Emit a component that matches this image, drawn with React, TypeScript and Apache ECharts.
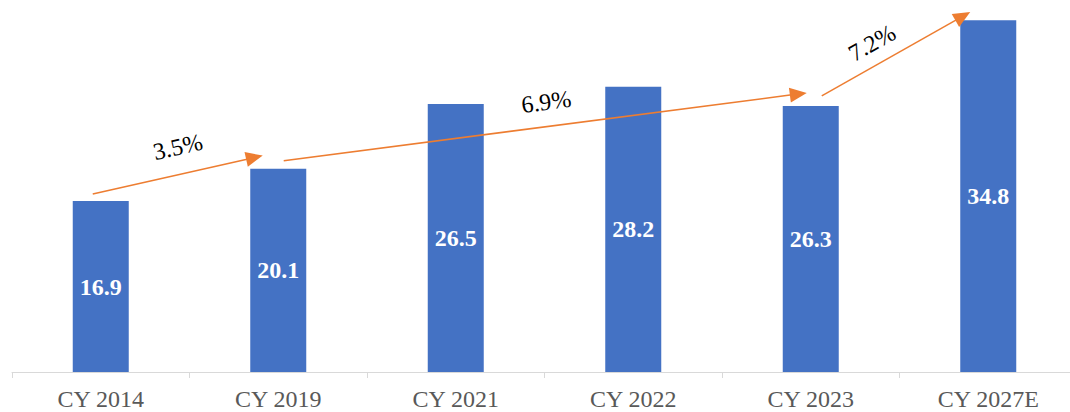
import React, { useEffect, useRef } from "react";
import * as echarts from "echarts";

const categories = ["CY 2014", "CY 2019", "CY 2021", "CY 2022", "CY 2023", "CY 2027E"];
const values = [16.9, 20.1, 26.5, 28.2, 26.3, 34.8];

// CAGR arrows: from category index/value to category index/value
const growthLabels = ["3.5%", "6.9%", "7.2%"];
const arrowFromIndex = [0, 1, 4];
const arrowToIndex = [1, 4, 5];
const arrowFromValue = [17.6, 20.9, 27.3];
const arrowToValue = [21.4, 27.6, 35.6];

// pixel styling offsets for the arrows and their labels
const arrowFromDx = [-8, 5.5, 11];
const arrowToDx = [-15.5, -4, -18];
const labelOffset = [
  [0, -28],
  [1, -25],
  [-24, -11],
];

const ORANGE = "#ED7D31";
const SERIF = "Liberation Serif";

export default function App() {
  const ref = useRef<HTMLDivElement>(null);

  useEffect(() => {
    if (!ref.current) return;
    const chart = echarts.init(ref.current, undefined, { renderer: "svg" });
    chart.setOption({
      animation: false,
      textStyle: { fontFamily: SERIF },
      grid: { left: 12, right: 0, top: 8, bottom: 40, containLabel: false },
      xAxis: {
        type: "category",
        data: categories,
        axisLine: { show: true, lineStyle: { color: "#D9D9D9", width: 1 } },
        axisTick: { show: true, length: 6, lineStyle: { color: "#D9D9D9" } },
        axisLabel: {
          color: "#595959",
          fontSize: 24,
          fontFamily: SERIF,
          margin: 15,
        },
      },
      yAxis: { type: "value", min: 0, max: 36, show: false, splitLine: { show: false } },
      series: [
        {
          type: "bar",
          data: values,
          barWidth: 56,
          itemStyle: { color: "#4472C4" },
          label: {
            show: true,
            position: "inside",
            color: "#FFFFFF",
            fontWeight: "bold",
            fontSize: 24,
            fontFamily: SERIF,
            textBorderWidth: 0,
          },
        },
      ],
    });

    const graphics: any[] = [];
    for (let i = 0; i < growthLabels.length; i++) {
      const p1 = chart.convertToPixel({ xAxisIndex: 0, yAxisIndex: 0 }, [arrowFromIndex[i], arrowFromValue[i]]) as number[];
      const p2 = chart.convertToPixel({ xAxisIndex: 0, yAxisIndex: 0 }, [arrowToIndex[i], arrowToValue[i]]) as number[];
      const x1 = p1[0] + arrowFromDx[i];
      const y1 = p1[1];
      const x2 = p2[0] + arrowToDx[i];
      const y2 = p2[1];
      const dx = x2 - x1;
      const dy = y2 - y1;
      const len = Math.sqrt(dx * dx + dy * dy);
      const ux = dx / len;
      const uy = dy / len;
      const headLen = 17;
      const headHalf = 7.5;
      const bx = x2 - ux * headLen;
      const by = y2 - uy * headLen;
      graphics.push({
        type: "line",
        shape: { x1, y1, x2: bx + ux * 2, y2: by + uy * 2 },
        style: { stroke: ORANGE, lineWidth: 1.5 },
        z: 100,
      });
      graphics.push({
        type: "polygon",
        shape: {
          points: [
            [x2, y2],
            [bx - uy * headHalf, by + ux * headHalf],
            [bx + uy * headHalf, by - ux * headHalf],
          ],
        },
        style: { fill: ORANGE },
        z: 100,
      });
      const mx = (x1 + x2) / 2 + labelOffset[i][0];
      const my = (y1 + y2) / 2 + labelOffset[i][1];
      graphics.push({
        type: "text",
        x: mx,
        y: my,
        rotation: Math.atan2(-dy, dx),
        style: {
          text: growthLabels[i],
          fontFamily: SERIF,
          fontSize: 24,
          fill: "#000000",
          align: "center",
          verticalAlign: "middle",
        },
        z: 100,
      });
    }
    chart.setOption({ graphic: graphics });

    return () => chart.dispose();
  }, []);

  return (
    <div style={{ position: "absolute", left: 0, top: 0, width: 1070, height: 412, overflow: "hidden", background: "#fff" }}>
      <div ref={ref} style={{ position: "absolute", left: 0, top: 0, width: 1077, height: 412 }} />
    </div>
  );
}
